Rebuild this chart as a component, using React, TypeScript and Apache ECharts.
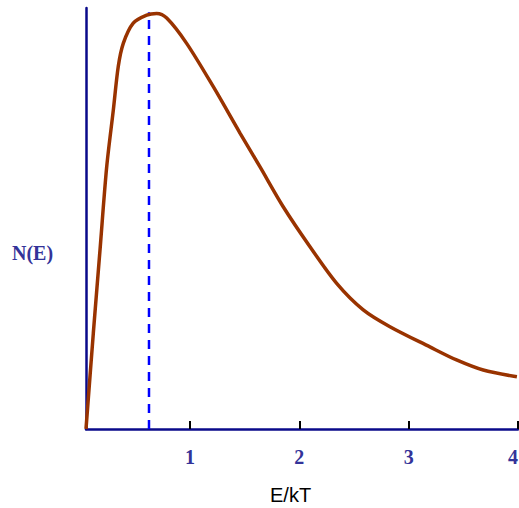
import React, { useEffect, useRef } from "react";
import * as echarts from "echarts";

const curveX = [0.05, 0.117, 0.178, 0.239, 0.30, 0.345, 0.391, 0.482, 0.605, 0.696, 0.788, 0.97, 1.214, 1.458, 1.64, 1.853, 2.098, 2.342, 2.585, 2.829, 3.194, 3.438, 3.682, 3.99];
const curveY = [0, 22.8, 42.5, 62.2, 75.8, 86.1, 91.6, 96.4, 98.3, 98.7, 97.6, 91.6, 81.3, 70.3, 62.3, 52.8, 43.3, 34.6, 28.3, 24.3, 19.5, 16.4, 14.0, 12.4];
const peakX = 0.626;
const peakTop = 99;
const tickValues = [1, 2, 3, 4];

export default function App() {
  const ref = useRef<HTMLDivElement>(null);
  useEffect(() => {
    if (!ref.current) return;
    const chart = echarts.init(ref.current, null, { renderer: "svg" });
    const serif = "'Liberation Serif', 'Times New Roman', serif";
    chart.setOption({
      animation: false,
      grid: { left: 86, right: 1, top: 8, bottom: 79, containLabel: false, outerBoundsMode: "none" },
      xAxis: {
        type: "value",
        min: 0.05,
        max: 4,
        splitLine: { show: false },
        axisLine: { show: true, onZero: false, lineStyle: { color: "#0a0a8a", width: 2.5 } },
        axisTick: { show: true, inside: true, length: 8, customValues: tickValues, lineStyle: { color: "#000", width: 2 } },
        axisLabel: {
          customValues: tickValues,
          margin: 18,
          color: "#333399",
          fontFamily: serif,
          fontWeight: "bold",
          fontSize: 20,
          showMaxLabel: true,
          hideOverlap: false,
          alignMaxLabel: "right",
          formatter: (v: number) => String(Math.round(v)),
        },
      },
      yAxis: {
        type: "value",
        min: 0,
        max: 100,
        splitLine: { show: false },
        axisLine: { show: true, onZero: false, lineStyle: { color: "#0a0a8a", width: 2.5 } },
        axisTick: { show: false },
        axisLabel: { show: false },
      },
      graphic: [
        {
          type: "text",
          left: 12,
          top: 243,
          style: { text: "N(E)", fill: "#333399", font: `bold 20px ${serif}` },
        },
        {
          type: "text",
          left: 270,
          top: 485,
          style: { text: "E/kT", fill: "#000", font: "20px 'Liberation Sans', Arial, sans-serif" },
        },
      ],
      series: [
        {
          type: "line",
          data: [[peakX, 0], [peakX, peakTop]],
          symbol: "none",
          lineStyle: { color: "#0000ff", width: 2.5, type: [9, 7] },
          z: 1,
        },
        {
          type: "line",
          data: curveX.map((x, i) => [x, curveY[i]]),
          symbol: "none",
          smooth: 0.3,
          lineStyle: { color: "#993300", width: 3.5 },
          z: 2,
        },
      ],
    });
    return () => chart.dispose();
  }, []);
  return <div ref={ref} style={{ width: 519, height: 508, position: "absolute", left: 0, top: 0 }} />;
}
